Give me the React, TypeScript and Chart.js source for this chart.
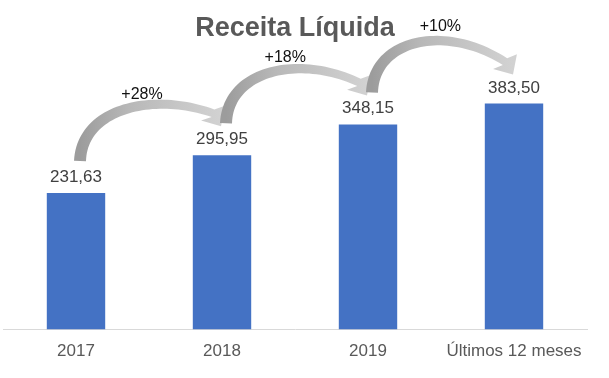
import React, { useEffect, useRef } from "react";
import { Chart, registerables } from "chart.js";

Chart.register(...registerables);

const categories = ["2017", "2018", "2019", "Últimos 12 meses"];
const revenue = [231.63, 295.95, 348.15, 383.5];
const growthLabels = ["+28%", "+18%", "+10%"];
const titleText = "Receita Líquida";
const yMax = 450;

const FONT = "'Liberation Sans', Arial, sans-serif";
const labelFrac = [0.44, 0.42, 0.485];

const fmt = (v: number) => v.toFixed(2).replace(".", ",");

function bez(p0: any, p1: any, p2: any, p3: any, t: number) {
  const u = 1 - t;
  return {
    x: u * u * u * p0.x + 3 * u * u * t * p1.x + 3 * u * t * t * p2.x + t * t * t * p3.x,
    y: u * u * u * p0.y + 3 * u * u * t * p1.y + 3 * u * t * t * p2.y + t * t * t * p3.y,
  };
}
function bezD(p0: any, p1: any, p2: any, p3: any, t: number) {
  const u = 1 - t;
  return {
    x: 3 * u * u * (p1.x - p0.x) + 6 * u * t * (p2.x - p1.x) + 3 * t * t * (p3.x - p2.x),
    y: 3 * u * u * (p1.y - p0.y) + 6 * u * t * (p2.y - p1.y) + 3 * t * t * (p3.y - p2.y),
  };
}

function drawArrow(ctx: CanvasRenderingContext2D, tail: any, p1: any, p2: any, p3: any, tip: any) {
  const N = 48;
  const left: any[] = [];
  const right: any[] = [];
  for (let k = 0; k <= N; k++) {
    const t = k / N;
    const p = bez(tail, p1, p2, p3, t);
    const d = bezD(tail, p1, p2, p3, t);
    const len = Math.hypot(d.x, d.y) || 1;
    const nx = -d.y / len;
    const ny = d.x / len;
    const w = (12 - 4 * t) / 2;
    left.push({ x: p.x + nx * w, y: p.y + ny * w });
    right.push({ x: p.x - nx * w, y: p.y - ny * w });
  }
  const hx = tip.x - p3.x;
  const hy = tip.y - p3.y;
  const hl = Math.hypot(hx, hy) || 1;
  const px = -hy / hl;
  const py = hx / hl;
  const hw = 14;
  const g = ctx.createLinearGradient(tail.x, 0, tip.x, 0);
  g.addColorStop(0, "#9c9c9c");
  g.addColorStop(0.35, "#b8b8b8");
  g.addColorStop(1, "#d2d2d2");
  ctx.beginPath();
  ctx.moveTo(left[0].x, left[0].y);
  for (let k = 1; k <= N; k++) ctx.lineTo(left[k].x, left[k].y);
  ctx.lineTo(p3.x + px * hw, p3.y + py * hw);
  ctx.lineTo(tip.x, tip.y);
  ctx.lineTo(p3.x - px * hw, p3.y - py * hw);
  for (let k = N; k >= 0; k--) ctx.lineTo(right[k].x, right[k].y);
  ctx.closePath();
  ctx.fillStyle = g;
  ctx.fill();
}

const overlay = {
  id: "overlay",
  afterDatasetsDraw(chart: any) {
    const ctx: CanvasRenderingContext2D = chart.ctx;
    const bars = chart.getDatasetMeta(0).data.map((b: any) => ({ x: b.x, y: b.y }));
    ctx.save();
    ctx.font = `17px ${FONT}`;
    ctx.fillStyle = "#404040";
    ctx.textAlign = "center";
    ctx.textBaseline = "alphabetic";
    bars.forEach((b: any, i: number) => ctx.fillText(fmt(revenue[i]), b.x, b.y - 11));
    for (let i = 0; i < bars.length - 1; i++) {
      const a = bars[i];
      const b = bars[i + 1];
      const tail = { x: a.x + 4, y: a.y - 32 };
      const tip = { x: b.x - 1, y: b.y - 29 };
      const p3 = { x: tip.x - 8, y: tip.y - 13 };
      const peak = tail.y - 55;
      const p1 = { x: tail.x + 2, y: peak + 2 };
      const p2 = { x: p3.x - 60, y: peak - 14 };
      drawArrow(ctx, tail, p1, p2, p3, tip);
      ctx.font = `16px ${FONT}`;
      ctx.fillStyle = "#111111";
      ctx.textBaseline = "middle";
      ctx.fillText(growthLabels[i], tail.x + labelFrac[i] * (tip.x - tail.x), tail.y - 66);
    }
    ctx.restore();
  },
};

export default function App() {
  const ref = useRef<HTMLCanvasElement | null>(null);
  useEffect(() => {
    document.body.style.margin = "0";
    if (!ref.current) return;
    const chart = new Chart(ref.current, {
      type: "bar",
      data: {
        labels: categories,
        datasets: [
          {
            data: revenue,
            backgroundColor: "#4472C4",
            barPercentage: 0.4,
            categoryPercentage: 1,
          },
        ],
      },
      options: {
        animation: false,
        responsive: false,
        layout: { padding: { left: 3, right: 22, top: 0, bottom: 4 } },
        plugins: {
          legend: { display: false },
          tooltip: { enabled: false },
          title: {
            display: true,
            text: titleText,
            color: "#595959",
            font: { family: FONT, size: 27, weight: "bold" },
            padding: { top: 12, bottom: 20 },
          },
        },
        scales: {
          x: {
            grid: { display: false, drawTicks: false },
            border: { display: true, color: "#d9d9d9", width: 1 },
            ticks: { color: "#595959", font: { family: FONT, size: 17 }, padding: 12 },
          },
          y: { display: false, min: 0, max: yMax },
        },
      } as any,
      plugins: [overlay],
    });
    return () => chart.destroy();
  }, []);
  return (
    <div style={{ width: 609, height: 378 }}>
      <canvas ref={ref} width={609} height={378} style={{ display: "block" }} />
    </div>
  );
}
